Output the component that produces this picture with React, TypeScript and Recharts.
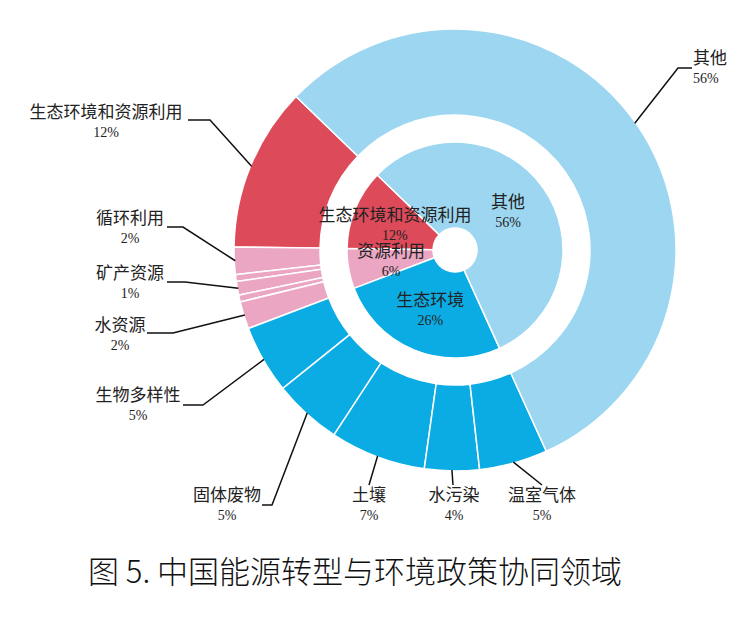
import React from 'react';
import { PieChart, Pie, Cell } from 'recharts';

const innerNames = ['生态环境和资源利用', '资源利用', '生态环境', '其他'];
const innerValues = [12, 6, 26, 56];
const outerNames = ['生态环境和资源利用', '循环利用', '', '矿产资源', '', '水资源', '生物多样性', '固体废物', '土壤', '水污染', '温室气体', '其他'];
const outerValues = [12, 2, 0.5, 1, 0.5, 2, 5, 5, 7, 4, 5, 56];
const titleText = '图 5. 中国能源转型与环境政策协同领域';

const RED = '#DD4A5A';
const PINK = '#EBA6C4';
const BLUE = '#0BACE3';
const LIGHT = '#9DD6F0';
const innerColors = [RED, PINK, BLUE, LIGHT];
const outerColors = [RED, PINK, PINK, PINK, PINK, PINK, BLUE, BLUE, BLUE, BLUE, BLUE, LIGHT];

const innerData = innerNames.map((name, i) => ({ name, value: innerValues[i] }));
const outerData = outerNames.map((name, i) => ({ name, value: outerValues[i] }));

// label layout (chart coordinates): path points from text to arc, text center, anchor
type LabelLayout = { pts: [number, number][]; tx: number; ty: number; anchor: 'start' | 'middle' | 'end' };
const outerLayout: Record<string, LabelLayout> = {
  '其他': { pts: [[684, 60], [670, 60]], tx: 685, ty: 50, anchor: 'start' },
  '生态环境和资源利用': { pts: [[180, 112], [202, 112]], tx: 98, ty: 104, anchor: 'middle' },
  '循环利用': { pts: [[159, 219], [175, 219]], tx: 122, ty: 210, anchor: 'middle' },
  '矿产资源': { pts: [[159, 274], [177, 274]], tx: 122, ty: 265, anchor: 'middle' },
  '水资源': { pts: [[139, 325], [165, 325]], tx: 112, ty: 317, anchor: 'middle' },
  '生物多样性': { pts: [[175, 397], [195, 397]], tx: 130, ty: 387, anchor: 'middle' },
  '固体废物': { pts: [[254, 497], [264, 497]], tx: 219, ty: 487, anchor: 'middle' },
  '土壤': { pts: [[361, 477]], tx: 361, ty: 487, anchor: 'middle' },
  '水污染': { pts: [[445, 477]], tx: 446, ty: 487, anchor: 'middle' },
  '温室气体': { pts: [[534, 477]], tx: 534, ty: 487, anchor: 'middle' },
};

const RAD = Math.PI / 180;
const CN_FONT = "'Liberation Serif', 'Noto Sans CJK SC', serif";

const renderOuterLabel = (props: any) => {
  const { cx, cy, midAngle, outerRadius, name, value } = props;
  const lay = outerLayout[name];
  if (!name || !lay) return null;
  const ax = cx + (outerRadius - 1) * Math.cos(-midAngle * RAD);
  const ay = cy + (outerRadius - 1) * Math.sin(-midAngle * RAD);
  const pts = [...lay.pts, [ax, ay]];
  const d = pts.map((p, i) => `${i === 0 ? 'M' : 'L'}${p[0]},${p[1]}`).join(' ');
  return (
    <g>
      <path d={d} stroke="#111" strokeWidth={1.5} fill="none" />
      <text x={lay.tx} y={lay.ty} textAnchor={lay.anchor} dominantBaseline="central" fontSize={17} fill="#222" fontFamily={CN_FONT}>
        {name}
      </text>
      <text x={lay.tx} y={lay.ty + 20} textAnchor={lay.anchor} dominantBaseline="central" fontSize={14} fill="#222" fontFamily={CN_FONT}>
        {`${value}%`}
      </text>
    </g>
  );
};

const renderInnerLabel = (props: any) => {
  const { cx, cy, midAngle, innerRadius, outerRadius, name, value } = props;
  const r = (innerRadius + outerRadius) / 2;
  const x = cx + r * Math.cos(-midAngle * RAD);
  const y = cy + r * Math.sin(-midAngle * RAD);
  return (
    <g>
      <text x={x} y={y - 10} textAnchor="middle" dominantBaseline="central" fontSize={17} fill="#222" fontFamily={CN_FONT}>
        {name}
      </text>
      <text x={x} y={y + 10} textAnchor="middle" dominantBaseline="central" fontSize={14} fill="#222" fontFamily={CN_FONT}>
        {`${value}%`}
      </text>
    </g>
  );
};

export default function App() {
  return (
    <div style={{ position: 'relative', width: 738, height: 600, background: '#fff' }}>
      <PieChart width={738} height={535} margin={{ top: 0, right: 0, bottom: 0, left: 0 }}>
        <Pie
          data={outerData}
          dataKey="value"
          nameKey="name"
          cx={447}
          cy={242}
          innerRadius={135}
          outerRadius={221}
          startAngle={136}
          endAngle={496}
          stroke="#fff"
          strokeWidth={1.5}
          label={renderOuterLabel}
          labelLine={false}
          isAnimationActive={false}
        >
          {outerData.map((d, i) => (
            <Cell key={`o-${i}`} fill={outerColors[i]} />
          ))}
        </Pie>
        <Pie
          data={innerData}
          dataKey="value"
          nameKey="name"
          cx={447}
          cy={242}
          innerRadius={22}
          outerRadius={108}
          startAngle={136}
          endAngle={496}
          stroke="#fff"
          strokeWidth={1.5}
          label={renderInnerLabel}
          labelLine={false}
          isAnimationActive={false}
        >
          {innerData.map((d, i) => (
            <Cell key={`i-${i}`} fill={innerColors[i]} />
          ))}
        </Pie>
      </PieChart>
      <div
        style={{
          position: 'absolute',
          left: 80,
          top: 544,
          fontSize: 31,
          letterSpacing: 0,
          lineHeight: '36px',
          fontFamily: "'Noto Sans CJK SC', sans-serif",
          fontWeight: 300,
          color: '#111',
          whiteSpace: 'nowrap',
        }}
      >
        {titleText}
      </div>
    </div>
  );
}
